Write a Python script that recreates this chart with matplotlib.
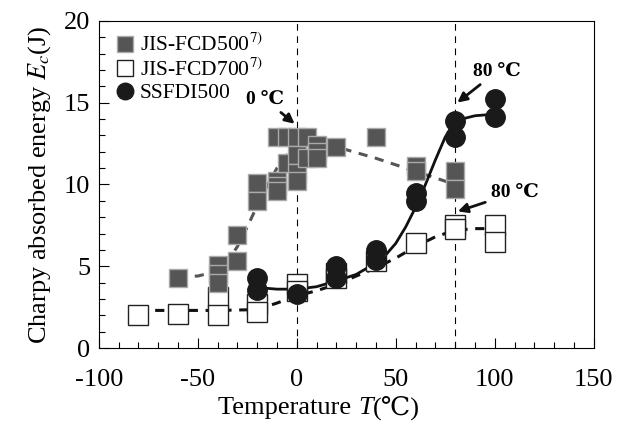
import matplotlib
matplotlib.use("Agg")
import matplotlib.pyplot as plt
from matplotlib.ticker import MultipleLocator
from matplotlib.offsetbox import TextArea, HPacker, AnchoredOffsetbox

plt.rcParams['font.family'] = ['Liberation Serif', 'DejaVu Serif']
plt.rcParams['mathtext.fontset'] = 'stix'
plt.rcParams['axes.unicode_minus'] = False

# JIS-FCD500 (серые квадраты)
fcd500_x = [-60, -40, -40, -40, -30, -30, -20, -20, -10, -10, -10, -10,
            -5, -5, 0, 0, 0, 0, 5, 5, 10, 10, 10, 20, 40, 60, 60, 80, 80]
fcd500_y = [4.3, 5.1, 4.5, 4.0, 6.9, 5.3, 10.1, 9.0, 12.9, 10.2, 9.9, 9.6,
            12.9, 11.3, 12.9, 11.8, 10.7, 10.2, 12.9, 11.6, 12.4, 12.0, 11.6, 12.3, 12.9, 11.1, 10.8, 10.8, 9.7]

# JIS-FCD700 (белые квадраты)
fcd700_x = [-80, -60, -40, -40, -20, -20, 0, 0, 20, 20, 40, 60, 80, 80, 100, 100]
fcd700_y = [2.0, 2.1, 3.15, 2.0, 2.7, 2.2, 3.9, 3.5, 4.6, 4.3, 5.3, 6.4, 7.5, 7.3, 7.5, 6.5]

# SSFDI500 (чёрные круги)
ssfdi_x = [-20, -20, 0, 20, 20, 40, 40, 60, 60, 80, 80, 100, 100]
ssfdi_y = [4.3, 3.55, 3.3, 5.0, 4.3, 6.0, 5.4, 9.5, 9.0, 13.85, 12.9, 15.2, 14.1]

# Линии тренда
fcd500_tx = [-60, -50, -40, -35, -30, -25, -20, -15, -10, -5, 0, 5, 10, 20, 40, 60, 80]
fcd500_ty = [4.4, 4.4, 4.7, 5.3, 6.2, 7.4, 8.7, 9.9, 11.0, 11.8, 12.3, 12.4, 12.4, 12.3, 11.6, 10.8, 10.0]

fcd700_tx = [-80, -60, -40, -20, -10, 0, 10, 20, 30, 40, 50, 60, 70, 80, 90, 100]
fcd700_ty = [2.3, 2.3, 2.3, 2.35, 2.75, 3.2, 3.5, 3.9, 4.4, 4.9, 5.5, 6.2, 6.8, 7.2, 7.3, 7.3]

ssfdi_tx = [-20, -10, 0, 10, 20, 30, 40, 45, 50, 55, 60, 65, 70, 75, 80, 90, 100]
ssfdi_ty = [3.7, 3.6, 3.6, 3.75, 4.1, 4.5, 5.2, 5.7, 6.4, 7.4, 8.6, 10.0, 11.5, 12.9, 13.9, 14.2, 14.3]

fig = plt.figure(figsize=(6.29, 4.26), dpi=100)
ax = fig.add_axes([0.157, 0.183, 0.787, 0.768])

# Вертикальные пунктирные линии
ax.axvline(0, color='black', lw=0.8, ls=(0, (6, 5)), zorder=1)
ax.axvline(80, color='black', lw=0.8, ls=(0, (6, 5)), zorder=1)

ax.plot(fcd500_tx, fcd500_ty, color='#555555', lw=2.2, ls=(0, (3, 2.5)), zorder=2)
ax.plot(fcd700_tx, fcd700_ty, color='#111111', lw=2.2, ls=(0, (3, 2.5)), zorder=2)
ax.plot(ssfdi_tx, ssfdi_ty, color='#111111', lw=2.0, zorder=2)

ax.plot(fcd700_x, fcd700_y, 's', ms=14, mfc='white', mec='#222222', mew=1.0,
        ls='none', zorder=3, label='JIS-FCD700$^{7)}$')
ax.plot(fcd500_x, fcd500_y, 's', ms=13, mfc='#555555', mec='#aaaaaa', mew=1.0,
        ls='none', zorder=4, label='JIS-FCD500$^{7)}$')
ax.plot(ssfdi_x, ssfdi_y, 'o', ms=14, mfc='#1a1a1a', mec='#1a1a1a',
        ls='none', zorder=5, label='SSFDI500')

# Подписи со стрелками
arrow = dict(arrowstyle='-|>', color='#111111', lw=2.0, mutation_scale=14)
ax.annotate('0 ℃', xy=(0, 13.6), xytext=(-16, 15.2), fontsize=14, fontweight='bold',
            ha='center', va='center', arrowprops=arrow, zorder=6)
ax.annotate('80 ℃', xy=(80, 14.9), xytext=(101, 16.9), fontsize=14, fontweight='bold',
            ha='center', va='center', arrowprops=arrow, zorder=6)
ax.annotate('80 ℃', xy=(80, 8.3), xytext=(110, 9.5), fontsize=14, fontweight='bold',
            ha='center', va='center', arrowprops=arrow, zorder=6)

ax.set_xlim(-100, 150)
ax.set_ylim(0, 20)
ax.xaxis.set_major_locator(MultipleLocator(50))
ax.xaxis.set_minor_locator(MultipleLocator(10))
ax.yaxis.set_major_locator(MultipleLocator(5))
ax.yaxis.set_minor_locator(MultipleLocator(1))
ax.tick_params(which='both', direction='in', top=False, right=False, labelsize=19)
ax.tick_params(which='major', length=7, width=0.8)
ax.tick_params(which='minor', length=4, width=0.8)
ax.tick_params(axis='x', pad=15)
ax.tick_params(axis='y', pad=6)

# Подпись оси X: курсивная T и знак ℃
fam = ['Liberation Serif', 'DejaVu Serif']
xlab = HPacker(children=[
    TextArea('Temperature ', textprops=dict(fontsize=19, family=fam)),
    TextArea('T', textprops=dict(fontsize=19, family=fam, style='italic')),
    TextArea('(℃)', textprops=dict(fontsize=19, family=fam)),
], align='baseline', pad=0, sep=0)
ax.add_artist(AnchoredOffsetbox(loc='upper center', child=xlab, frameon=False, pad=0,
                                borderpad=0, bbox_to_anchor=(0.445, -0.145),
                                bbox_transform=ax.transAxes))

ax.set_ylabel('Charpy absorbed energy $E_c$(J)', fontsize=19, labelpad=8)

handles, labels = ax.get_legend_handles_labels()
order = [1, 0, 2]
ax.legend([handles[i] for i in order], [labels[i] for i in order], loc='upper left',
          frameon=False, fontsize=15.5, handletextpad=0.1, borderaxespad=0.2,
          labelspacing=0.1, handlelength=1.2, markerscale=0.85)

plt.savefig('out.png', dpi=100)
